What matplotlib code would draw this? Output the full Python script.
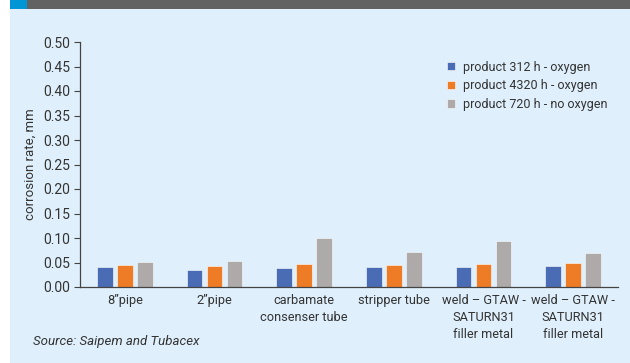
import matplotlib

matplotlib.use("Agg")
import matplotlib.pyplot as plt
import numpy as np
from matplotlib.patches import Rectangle

categories = [
    "8\u201dpipe",
    "2\u201dpipe",
    "carbamate\nconsenser tube",
    "stripper tube",
    "weld \u2013 GTAW -\nSATURN31\nfiller metal",
    "weld \u2013 GTAW -\nSATURN31\nfiller metal",
]
series_names = [
    "product 312 h - oxygen",
    "product 4320 h - oxygen",
    "product 720 h - no oxygen",
]
oxygen_312 = [0.040, 0.035, 0.038, 0.041, 0.040, 0.043]
oxygen_4320 = [0.044, 0.042, 0.047, 0.044, 0.047, 0.050]
no_oxygen_720 = [0.051, 0.054, 0.099, 0.072, 0.093, 0.070]
yticks = [0.0, 0.05, 0.10, 0.15, 0.20, 0.25, 0.30, 0.35, 0.40, 0.45, 0.50]

colors = ["#4A6CB5", "#EE7B26", "#AEAAAA"]
bg = "#DFF0FC"
text_col = "#333333"

plt.rcParams["font.family"] = ["Roboto", "Liberation Sans", "DejaVu Sans"]

fig = plt.figure(figsize=(6.3, 3.63), dpi=100)
W, H = 630, 363

# panel background + header strip
fig.patches.append(Rectangle((10 / W, 0), 1, 1 - 9 / H, transform=fig.transFigure,
                             facecolor=bg, edgecolor="none", zorder=-2))
fig.patches.append(Rectangle((27 / W, 1 - 9 / H), 1, 9 / H, transform=fig.transFigure,
                             facecolor="#626262", edgecolor="none", zorder=-2))
fig.patches.append(Rectangle((10 / W, 1 - 9 / H), 17 / W, 9 / H, transform=fig.transFigure,
                             facecolor="#0096D6", edgecolor="none", zorder=-2))

ax = fig.add_axes([80 / W, 1 - 287 / H, 538 / W, 245 / H])
ax.set_facecolor("none")

x = np.arange(len(categories))
width = 0.178
pitch = 0.223
for i, (vals, name) in enumerate(zip([oxygen_312, oxygen_4320, no_oxygen_720], series_names)):
    ax.bar(x + (i - 1) * pitch, vals, width, color=colors[i], label=name,
           edgecolor="white", linewidth=0.4)

ax.set_xlim(-0.5, len(categories) - 0.5)
ax.set_ylim(0, 0.5)
ax.set_yticks(yticks)
ax.set_yticklabels([f"{v:.2f}" for v in yticks], fontsize=10, color=text_col)
ax.set_xticks(x)
ax.set_xticklabels(categories, fontsize=9.2, color=text_col, linespacing=1.4)
ax.tick_params(axis="x", length=0, pad=5)
ax.tick_params(axis="y", length=4, width=0.8, color="#444444", pad=3)
for s in ["top", "right"]:
    ax.spines[s].set_visible(False)
for s in ["left", "bottom"]:
    ax.spines[s].set_color("#444444")
    ax.spines[s].set_linewidth(0.9)

ax.set_ylabel("corrosion rate, mm", fontsize=9.5, color=text_col, labelpad=5)

leg = ax.legend(loc="upper left", bbox_to_anchor=(0.67, 0.95), frameon=False,
                fontsize=9, handlelength=0.65, handleheight=0.65, handletextpad=0.65,
                labelspacing=0.45, borderpad=0)
for t in leg.get_texts():
    t.set_color(text_col)

fig.text(33 / W, 1 - 341 / H, "Source: Saipem and Tubacex", fontsize=9.5,
         style="italic", color=text_col, va="center", ha="left")

fig.savefig("out.png", dpi=100)
